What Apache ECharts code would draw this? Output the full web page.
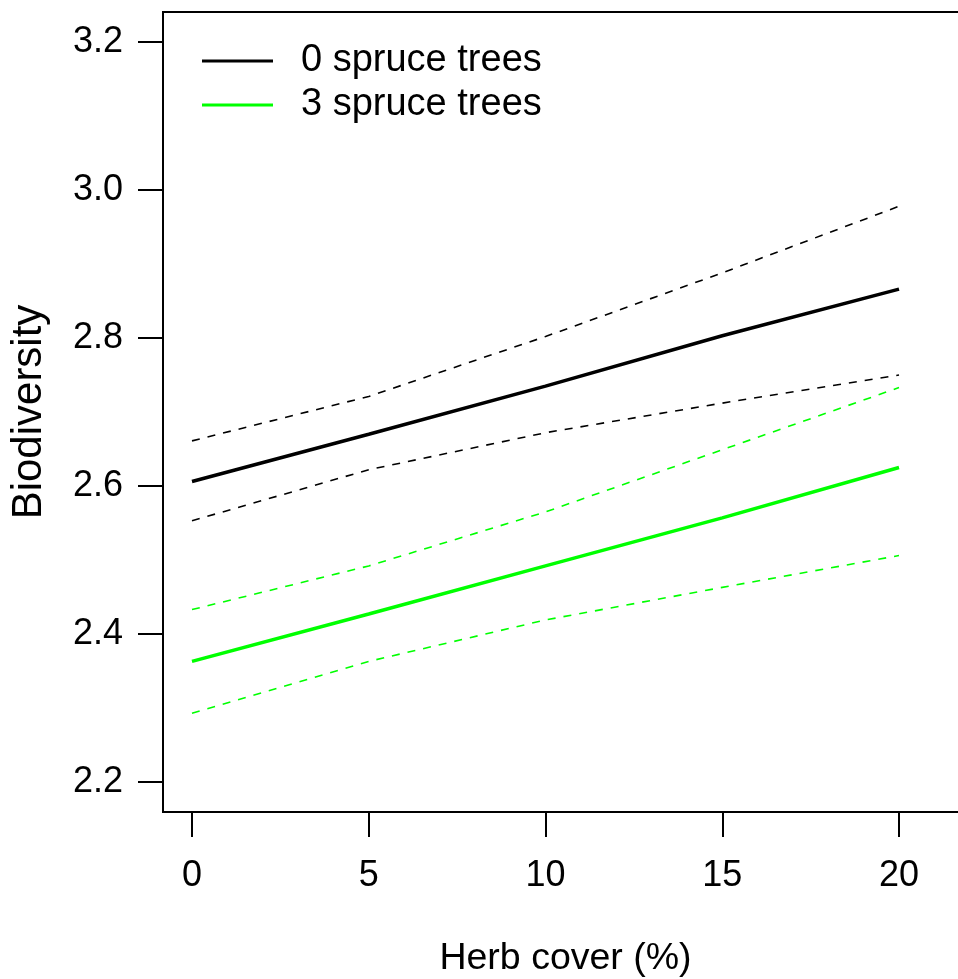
<!DOCTYPE html>
<html>
<head>
<meta charset="utf-8">
<script src="https://cdn.jsdelivr.net/npm/echarts@6/dist/echarts.min.js"></script>
<style>html,body{margin:0;padding:0;background:#fff;}#c{width:958px;height:979px;}</style>
</head>
<body>
<div id="c"></div>
<script>
const herbCover = [0, 5, 10, 15, 20];
const fit0 = [2.606, 2.670, 2.735, 2.803, 2.866];
const upper0 = [2.661, 2.721, 2.802, 2.888, 2.978];
const lower0 = [2.553, 2.622, 2.672, 2.712, 2.750];
const fit3 = [2.363, 2.427, 2.492, 2.557, 2.625];
const upper3 = [2.433, 2.492, 2.565, 2.649, 2.733];
const lower3 = [2.293, 2.363, 2.419, 2.463, 2.506];
const xTicks = [0, 5, 10, 15, 20];
const yTicks = [2.2, 2.4, 2.6, 2.8, 3.0, 3.2];
const seriesNames = ['0 spruce trees', '3 spruce trees'];

const FONT = "'Liberation Sans', Arial, sans-serif";
const pts = arr => herbCover.map((x, i) => [x, arr[i]]);
function line(name, arr, color, dashed) {
  return {
    name: name, type: 'line', data: pts(arr), showSymbol: false, symbol: 'none',
    silent: true, animation: false,
    lineStyle: dashed ? {color: color, width: 1.6, type: [8, 8]} : {color: color, width: 3.5},
    itemStyle: {color: color}
  };
}
const chart = echarts.init(document.getElementById('c'));
chart.setOption({
  animation: false,
  backgroundColor: '#fff',
  grid: {left: 163, top: 12, right: -40, bottom: 167, show: true, borderColor: '#000', borderWidth: 2,
    outerBoundsMode: 'none', containLabel: false},
  legend: {
    data: seriesNames, orient: 'vertical', left: 197, top: 36,
    itemWidth: 71, itemHeight: 3, itemGap: 4, icon: 'rect',
    textStyle: {fontFamily: FONT, fontSize: 38, color: '#000', lineHeight: 40, padding: [0, 0, 0, 23]}
  },
  xAxis: {
    type: 'value', min: -0.82, max: 22.80,
    name: 'Herb cover (%)', nameLocation: 'middle', nameGap: 128,
    nameTextStyle: {fontFamily: FONT, fontSize: 37.5, color: '#000', padding: [0, 30, 0, 0]},
    axisLine: {show: true, onZero: false, lineStyle: {color: '#000', width: 2}},
    axisTick: {show: true, length: 25, customValues: xTicks, lineStyle: {color: '#000', width: 2}},
    axisLabel: {customValues: xTicks, margin: 46, fontFamily: FONT, fontSize: 36, color: '#000'},
    splitLine: {show: false}
  },
  yAxis: {
    type: 'value', min: 2.1595, max: 3.2405,
    name: 'Biodiversity', nameLocation: 'middle', nameGap: 113,
    nameTextStyle: {fontFamily: FONT, fontSize: 42, color: '#000'},
    axisLine: {show: true, onZero: false, lineStyle: {color: '#000', width: 2}},
    axisTick: {show: true, length: 25, customValues: yTicks, lineStyle: {color: '#000', width: 2}},
    axisLabel: {customValues: yTicks, margin: 40, fontFamily: FONT, fontSize: 36, color: '#000',
      formatter: v => v.toFixed(1)},
    splitLine: {show: false}
  },
  series: [
    line(seriesNames[0], fit0, '#000000', false),
    line('upper0', upper0, '#000000', true),
    line('lower0', lower0, '#000000', true),
    line(seriesNames[1], fit3, '#00ff00', false),
    line('upper3', upper3, '#00ff00', true),
    line('lower3', lower3, '#00ff00', true)
  ]
});
</script>
</body>
</html>
